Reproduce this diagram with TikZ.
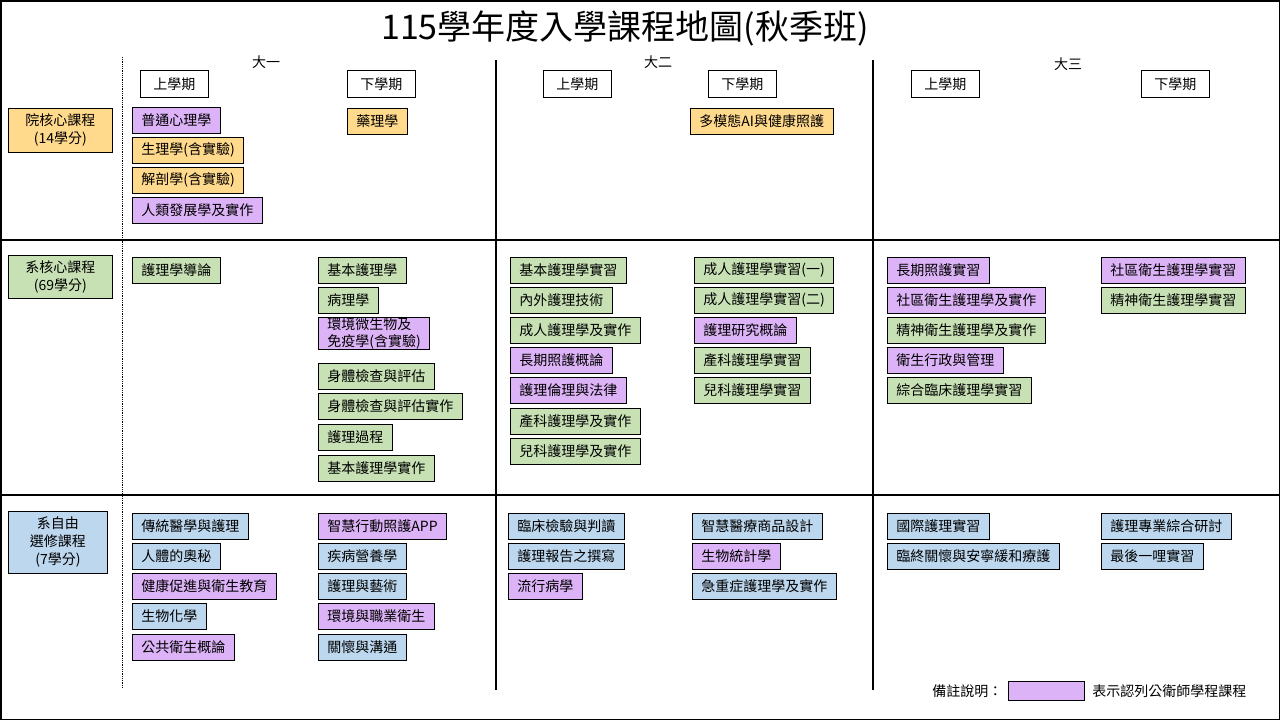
\documentclass[tikz,border=0pt]{standalone}
\usepackage{fontspec}
\setmainfont{Noto Sans CJK TC}
\usetikzlibrary{positioning}
\definecolor{kpurple}{HTML}{DDB3F7}
\definecolor{kyellow}{HTML}{FFD98C}
\definecolor{kgreen}{HTML}{C7E1B5}
\definecolor{kblue}{HTML}{BDD7EE}

\tikzset{
	course/.style={draw, thick, anchor=north west, inner xsep=9pt, inner ysep=0pt,
		minimum height=26pt, align=left, font=\fontsize{14}{17}\selectfont},
	P/.style={course, fill=kpurple},
	Y/.style={course, fill=kyellow},
	G/.style={course, fill=kgreen},
	B/.style={course, fill=kblue},
	term/.style={draw, thick, fill=white, minimum width=68pt, minimum height=27pt,
		anchor=north west, font=\fontsize{14}{17}\selectfont},
	year/.style={font=\fontsize{14}{17}\selectfont},
	group/.style={draw, thick, align=center, inner sep=0pt, anchor=north west,
		font=\fontsize{14}{18}\selectfont},
	grid lines/.style={very thick},
}

\begin{document}
\begin{tikzpicture}[x=1pt, y=-1pt]
	\useasboundingbox (0,0) rectangle (1280,720);
	\draw[line width=3pt] (0,0) rectangle (1280,720);

	\node[font=\fontsize{34}{38}\selectfont] (title) at (625,28) {115學年度入學課程地圖(秋季班)};

	% grid
	\draw[grid lines] (0,240) -- (1280,240);
	\draw[grid lines] (0,495) -- (1280,495);
	\draw[grid lines] (496,60) -- (496,690);
	\draw[grid lines] (873,60) -- (873,690);
	\draw[thick, densely dotted] (122,57) -- (122,688);

	% years and terms
	\node[year] (y1) at (266,62) {大一};
	\node[year] (y2) at (658,62) {大二};
	\node[year] (y3) at (1068,64) {大三};
	\foreach \x/\t [count=\i] in {140/上學期,347/下學期,543/上學期,708/下學期,911/上學期,1141/下學期}
		\node[term] (t\i) at (\x,70) {\t};

	% groups
	\node[group, fill=kyellow, minimum width=104pt, minimum height=44pt] (g1) at (8,108) {院核心課程\\(14學分)};
	\node[group, fill=kgreen, minimum width=104pt, minimum height=43pt] (g2) at (8,255) {系核心課程\\(69學分)};
	\node[group, fill=kblue, minimum width=99pt, minimum height=62pt] (g3) at (8,511) {系自由\\選修課程\\(7學分)};

	% 院核心
	\foreach \y/\s/\t [count=\i] in {107/P/普通心理學,137/Y/生理學(含實驗),167/Y/解剖學(含實驗),197/P/人類發展學及實作}
		\node[\s] (a1-\i) at (132,\y) {\t};
	\node[Y] (a2-1) at (347,108) {藥理學};
	\node[Y] (a4-1) at (690,108) {多模態AI與健康照護};

	% 系核心
	\node[G] (b1-1) at (132,257) {護理學導論};
	\foreach \y/\s/\t [count=\i] in {257/G/基本護理學,287/G/病理學,317/P/{環境微生物及\\免疫學(含實驗)},363/G/身體檢查與評估,393/G/身體檢查與評估實作,424/G/護理過程,455/G/基本護理學實作}
		\node[\s] (b2-\i) at (318,\y) {\t};
	\foreach \y/\s/\t [count=\i] in {257/G/基本護理學實習,287/G/內外護理技術,317/G/成人護理學及實作,347/P/長期照護概論,377/P/護理倫理與法律,408/G/產科護理學及實作,438/G/兒科護理學及實作}
		\node[\s] (b3-\i) at (510,\y) {\t};
	\foreach \y/\s/\t [count=\i] in {257/G/成人護理學實習(一),287/G/成人護理學實習(二),317/P/護理研究概論,347/G/產科護理學實習,377/G/兒科護理學實習}
		\node[\s] (b4-\i) at (694,\y) {\t};
	\foreach \y/\s/\t [count=\i] in {257/P/長期照護實習,287/P/社區衛生護理學及實作,317/G/精神衛生護理學及實作,347/P/衛生行政與管理,377/G/綜合臨床護理學實習}
		\node[\s] (b5-\i) at (887,\y) {\t};
	\foreach \y/\s/\t [count=\i] in {257/P/社區衛生護理學實習,287/G/精神衛生護理學實習}
		\node[\s] (b6-\i) at (1101,\y) {\t};

	% 系自由選修
	\foreach \y/\s/\t [count=\i] in {513/B/傳統醫學與護理,543/B/人體的奧秘,573/P/健康促進與衛生教育,603/B/生物化學,634/P/公共衛生概論}
		\node[\s] (c1-\i) at (132,\y) {\t};
	\foreach \y/\s/\t [count=\i] in {513/P/智慧行動照護APP,543/B/疾病營養學,573/B/護理與藝術,603/P/環境與職業衛生,634/B/關懷與溝通}
		\node[\s] (c2-\i) at (318,\y) {\t};
	\foreach \y/\s/\t [count=\i] in {513/B/臨床檢驗與判讀,543/B/護理報告之撰寫,573/P/流行病學}
		\node[\s] (c3-\i) at (508,\y) {\t};
	\foreach \y/\s/\t [count=\i] in {513/B/智慧醫療商品設計,543/P/生物統計學,573/B/急重症護理學及實作}
		\node[\s] (c4-\i) at (692,\y) {\t};
	\foreach \y/\s/\t [count=\i] in {513/B/國際護理實習,543/B/臨終關懷與安寧緩和療護}
		\node[\s] (c5-\i) at (887,\y) {\t};
	\foreach \y/\s/\t [count=\i] in {513/B/護理專業綜合研討,543/B/最後一哩實習}
		\node[\s] (c6-\i) at (1101,\y) {\t};

	% legend
	\node[draw, thick, fill=kpurple, minimum width=76pt, minimum height=19pt, anchor=north west, inner sep=0pt] (key) at (1008,681) {};
	\node[year, left=2pt of key] (keyl) {備註說明：};
	\node[year, right=4pt of key] (keyr) {表示認列公衛師學程課程};
\end{tikzpicture}
\end{document}
